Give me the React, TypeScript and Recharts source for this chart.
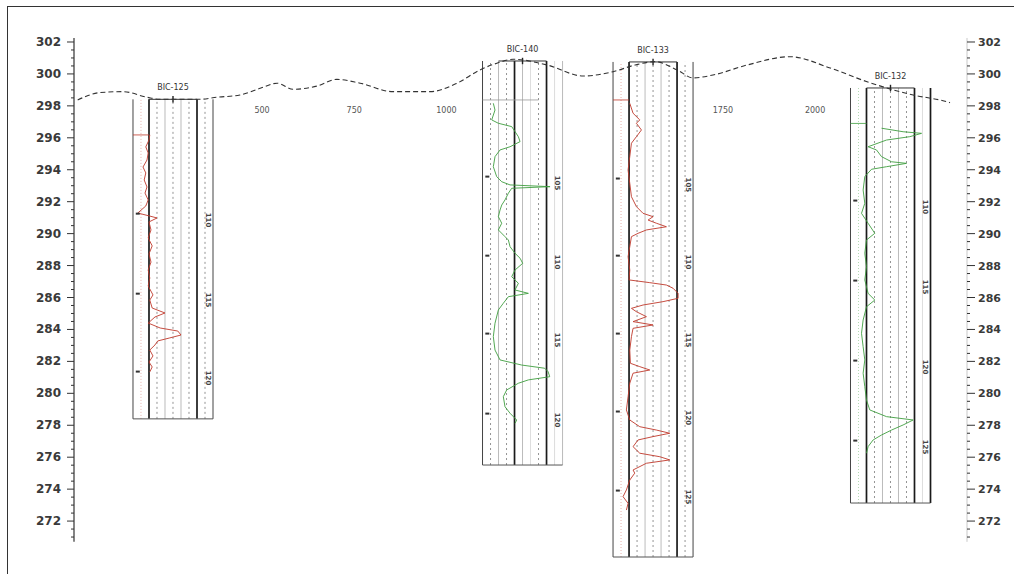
import {
  ComposedChart, Line, Scatter, XAxis, YAxis, ReferenceLine,
} from 'recharts'

// elevation axis (m)
const Y_LABELS = [302, 300, 298, 296, 294, 292, 290, 288, 286, 284, 282, 280, 278, 276, 274, 272]
const Y_TICKS = Array.from({ length: 63 }, (_, i) => 271 + i * 0.5)

// ground surface profile
const SURFACE_DIST = [0, 60, 123, 188, 223, 332, 378, 440, 495, 541, 584, 649, 703, 766, 855, 956, 1029, 1091, 1137, 1181, 1273, 1371, 1452, 1512, 1566, 1626, 1669, 1723, 1816, 1932, 2041, 2141, 2266, 2347, 2366]
const SURFACE_ELEV = [298.37, 298.83, 298.89, 298.54, 298.41, 298.41, 298.54, 298.68, 299.1, 299.42, 299.04, 299.24, 299.66, 299.42, 298.89, 298.89, 299.42, 300.25, 300.67, 300.92, 300.56, 299.87, 300.14, 300.56, 300.77, 300.25, 299.75, 299.93, 300.56, 301.08, 300.37, 299.51, 298.68, 298.32, 298.2]

// distance labels along the section
const DIST_TICKS = [500, 750, 1000, 1750, 2000]

// wells
const WELL_NAMES = ['BIC-125', 'BIC-140', 'BIC-133', 'BIC-132']
const WELL_DIST = [150, 1098, 1452, 2096]
const WELL_TOP = [298.41, 300.81, 300.75, 299.12]
const WELL_BASE = [278.4, 275.51, 269.75, 273.13]
const LOG_TOP = [296.18, 298.37, 298.37, 296.9]
const DEPTH_MARKS = [
  [290.85, 285.84, 280.96],
  [293.17, 288.22, 283.34, 278.33],
  [293.05, 288.22, 283.34, 278.46, 273.51],
  [291.67, 286.66, 281.65, 276.64],
]
const DEPTH_LABELS = [
  ['110', '115', '120'],
  ['105', '110', '115', '120'],
  ['105', '110', '115', '120', '125'],
  ['110', '115', '120', '125'],
]

// log curves: elevation, reading in track units (0-10)
const W1_ELEV = [296.18, 295.86, 295.43, 295.05, 294.61, 294.17, 293.8, 293.36, 292.92, 292.54, 292.11, 291.73, 291.29, 291.1, 290.98, 290.73, 290.23, 289.73, 289.23, 288.73, 288.22, 287.72, 287.22, 286.72, 286.16, 285.84, 285.34, 285.03, 284.78, 284.4, 284.09, 283.9, 283.65, 283.47, 283.28, 283.03, 282.71, 282.34, 281.96, 281.65, 281.34]
const W1_LOG = [2.1, 2.0, 1.6, 1.9, 1.75, 1.25, 1.6, 1.4, 1.75, 1.5, 1.9, 1.6, 0.6, 2.1, 3.0, 2.0, 2.25, 1.9, 2.4, 2.0, 2.25, 1.9, 2.1, 1.9, 2.5, 2.1, 2.4, 4.0, 2.75, 1.9, 3.4, 5.6, 6.0, 4.6, 3.1, 2.75, 2.1, 2.5, 2.0, 2.4, 2.1]

const W2_ELEV = [298.16, 297.74, 297.12, 296.91, 296.7, 296.07, 295.76, 295.44, 295.24, 294.82, 294.19, 293.57, 293.25, 293.05, 292.94, 292.84, 292.53, 292.11, 291.79, 291.48, 291.06, 290.65, 290.23, 289.81, 289.6, 289.18, 288.77, 288.46, 288.14, 287.72, 287.3, 286.89, 286.47, 286.26, 286.05, 285.64, 285.22, 284.39, 283.55, 282.71, 282.09, 281.77, 281.57, 281.36, 281.04, 280.84, 280.63, 280.21, 279.79, 279.16, 278.75, 278.33, 278.12]
const W2_LOG = [1.35, 1.56, 1.15, 1.98, 3.65, 4.48, 4.69, 3.44, 2.19, 1.56, 1.35, 1.77, 2.4, 3.44, 8.44, 3.65, 3.23, 2.81, 2.4, 2.19, 1.98, 2.4, 1.98, 2.81, 3.23, 3.44, 4.06, 4.69, 5.02, 4.06, 3.65, 4.48, 4.06, 5.73, 3.23, 2.6, 1.98, 1.56, 1.35, 1.56, 2.19, 4.9, 7.77, 8.19, 8.4, 5.73, 4.48, 3.02, 2.6, 2.81, 3.44, 4.27, 4.06]

const W3_ELEV = [298.16, 297.54, 297.12, 296.91, 296.49, 296.07, 295.66, 294.82, 293.98, 293.15, 292.31, 291.69, 291.27, 291.06, 290.85, 290.65, 290.43, 290.23, 290.02, 289.81, 289.18, 288.56, 287.72, 287.1, 286.93, 286.78, 286.58, 286.26, 285.95, 285.74, 285.53, 285.32, 285.11, 284.8, 284.49, 284.28, 284.07, 283.55, 282.71, 281.88, 281.67, 281.46, 281.26, 280.63, 279.79, 278.96, 278.33, 277.91, 277.7, 277.5, 277.29, 277.08, 276.66, 276.25, 276.03, 275.83, 275.62, 275.2, 275.0, 274.57, 273.95, 273.53, 273.11, 272.69]
const W3_LOG = [2.09, 2.5, 3.34, 2.92, 3.55, 2.92, 2.3, 2.09, 1.88, 2.09, 2.3, 2.92, 3.75, 5.0, 4.38, 5.42, 6.67, 4.17, 3.13, 2.3, 2.09, 1.88, 2.09, 2.0, 4.59, 6.67, 7.5, 8.13, 8.13, 6.25, 3.75, 2.3, 2.92, 4.17, 2.5, 5.0, 2.5, 2.3, 2.09, 2.17, 3.34, 4.59, 2.5, 2.09, 1.88, 1.67, 2.09, 3.34, 5.42, 7.09, 5.0, 3.13, 2.5, 3.34, 5.84, 7.09, 4.17, 2.5, 2.71, 2.09, 1.67, 1.25, 1.88, 1.67]

const W4_ELEV = [296.6, 296.38, 296.28, 296.07, 295.86, 295.44, 295.24, 294.82, 294.5, 294.4, 294.19, 294.03, 293.57, 292.73, 291.9, 291.27, 290.65, 290.02, 289.6, 288.77, 287.93, 287.1, 286.26, 285.84, 285.42, 284.59, 283.76, 282.92, 282.09, 281.26, 280.42, 279.58, 278.96, 278.54, 278.33, 278.02, 277.7, 277.39, 277.08, 276.66, 276.25]
const W4_LOG = [3.88, 6.58, 8.88, 7.41, 4.5, 2.2, 3.25, 3.88, 5.13, 7.0, 4.5, 2.63, 1.79, 1.58, 1.79, 1.38, 2.2, 3.04, 2.0, 1.79, 2.0, 1.79, 2.2, 3.04, 2.0, 1.58, 1.38, 1.58, 1.79, 1.58, 1.79, 2.0, 2.41, 4.5, 7.83, 6.58, 5.13, 3.88, 2.83, 2.2, 2.0]

const LOGS = [
  { elev: W1_ELEV, val: W1_LOG },
  { elev: W2_ELEV, val: W2_LOG },
  { elev: W3_ELEV, val: W3_LOG },
  { elev: W4_ELEV, val: W4_LOG },
]

const RED = '#c0392b'
const GREEN = '#3f9e3f'
const WELL_COLOURS = [RED, GREEN, RED, GREEN]

// track width in distance units per grid step
const STEP = 21.7

type Kind = 'outer' | 'thick' | 'thin' | 'dash' | 'dot' | 'faint'
const LAYOUT_A: [number, Kind][] = [[0, 'outer'], [1, 'dot'], [2, 'thick'], [3, 'dash'], [4, 'thin'], [5, 'dash'], [6, 'thin'], [7, 'dash'], [8, 'thick'], [9, 'dash'], [10, 'outer']]
const LAYOUT_B: [number, Kind][] = [[0, 'outer'], [1, 'dash'], [2, 'thin'], [3, 'dash'], [4, 'thick'], [5, 'thin'], [6, 'faint'], [7, 'dash'], [8, 'thick'], [9, 'faint'], [10, 'thin']]
const LAYOUT_C: [number, Kind][] = [[0, 'outer'], [1, 'dot'], [2, 'thick'], [3, 'dash'], [4, 'thin'], [5, 'dash'], [6, 'thin'], [7, 'dash'], [8, 'thick'], [9, 'faint'], [10, 'thick']]
const LAYOUTS = [LAYOUT_A, LAYOUT_B, LAYOUT_A, LAYOUT_C]

function lineStyle(kind: Kind, colour: string) {
  switch (kind) {
    case 'outer': return { stroke: '#444', strokeWidth: 1 }
    case 'thick': return { stroke: '#1a1a1a', strokeWidth: 1.7 }
    case 'thin': return { stroke: '#aaa', strokeWidth: 0.8 }
    case 'faint': return { stroke: '#d4d4d4', strokeWidth: 0.8 }
    case 'dash': return { stroke: '#777', strokeWidth: 0.8, strokeDasharray: '2 3' }
    default: return { stroke: colour, strokeOpacity: 0.5, strokeWidth: 0.8, strokeDasharray: '1 2' }
  }
}

function LeftTick(props: any) {
  const { x, y, payload } = props
  const major = Y_LABELS.includes(payload.value)
  return (
    <g>
      <line x1={x - (major ? 7 : 3)} x2={x} y1={y} y2={y} stroke="#333" strokeWidth={1} />
      {major && (
        <text x={x - 13} y={y} dy={4} textAnchor="end" fontSize={12} fontWeight="bold"
          fontFamily="DejaVu Sans, sans-serif" fill="#3a3a3a">{payload.value}</text>
      )}
    </g>
  )
}

function RightTick(props: any) {
  const { x, y, payload } = props
  const major = Y_LABELS.includes(payload.value)
  return (
    <g>
      <line x1={x} x2={x + (major ? 8 : 3)} y1={y} y2={y} stroke="#333" strokeWidth={1} />
      {major && (
        <text x={x + 11} y={y} dy={4} textAnchor="start" fontSize={11} fontWeight="bold"
          fontFamily="DejaVu Sans, sans-serif" fill="#3a3a3a">{payload.value}</text>
      )}
    </g>
  )
}

const surfaceData = SURFACE_DIST.map((d, i) => ({ x: d, y: SURFACE_ELEV[i] }))
const distLabelData = DIST_TICKS.map(d => ({ x: d, y: 297.75, label: String(d) }))
const nameData = WELL_NAMES.map((n, i) => ({ x: WELL_DIST[i] + 5 * STEP, y: WELL_TOP[i], label: n }))
const depthData = DEPTH_MARKS.flatMap((marks, w) =>
  marks.map((e, j) => ({ x: WELL_DIST[w] + 9.4 * STEP, y: e, label: DEPTH_LABELS[w][j] })))
const markData = DEPTH_MARKS.flatMap((marks, w) =>
  marks.map(e => ({ x: WELL_DIST[w] + 0.6 * STEP, y: e + 0.4 })))

export default function App() {
  return (
    <div style={{ position: 'absolute', left: 0, top: 0, width: 1014, height: 574, background: '#fff' }}>
      <div style={{
        position: 'absolute', left: 7, top: 6, width: 1007, height: 568,
        borderLeft: '1px solid #333', borderTop: '1px solid #333',
      }} />
      <div style={{ position: 'absolute', left: 0, top: 0 }}>
        <ComposedChart width={1014} height={574} margin={{ top: 34, right: 12, bottom: 13, left: 14 }}>
          <XAxis type="number" dataKey="x" domain={[-10, 2412]} allowDataOverflow hide />
          <YAxis yAxisId="l" type="number" domain={[269.5, 302.5]} allowDataOverflow ticks={Y_TICKS}
            interval={0} width={60} tickSize={0} tickMargin={0} axisLine={false} tickLine={false}
            tick={(p: any) => <LeftTick {...p} />} />
          <YAxis yAxisId="r" orientation="right" type="number" domain={[269.5, 302.5]} allowDataOverflow
            ticks={Y_TICKS} interval={0} width={35} tickSize={0} tickMargin={0} axisLine={false}
            tickLine={false} tick={(p: any) => <RightTick {...p} />} />

          <ReferenceLine yAxisId="l" ifOverflow="visible" stroke="#333" strokeWidth={1.2}
            segment={[{ x: -10, y: 270.7 }, { x: -10, y: 302.25 }]} />
          <ReferenceLine yAxisId="l" ifOverflow="visible" stroke="#bbb" strokeWidth={0.8}
            segment={[{ x: 2412, y: 270.7 }, { x: 2412, y: 302.25 }]} />

          {WELL_NAMES.map((_, w) => LAYOUTS[w].map(([s, kind]) => (
            <ReferenceLine key={`t${w}-${s}`} yAxisId="l" ifOverflow="visible"
              {...lineStyle(kind, WELL_COLOURS[w])}
              segment={[{ x: WELL_DIST[w] + s * STEP, y: WELL_BASE[w] }, { x: WELL_DIST[w] + s * STEP, y: WELL_TOP[w] }]} />
          )))}
          {WELL_NAMES.map((_, w) => (
            <ReferenceLine key={`b${w}`} yAxisId="l" ifOverflow="visible" stroke="#555" strokeWidth={1}
              segment={[{ x: WELL_DIST[w], y: WELL_BASE[w] }, { x: WELL_DIST[w] + 10 * STEP, y: WELL_BASE[w] }]} />
          ))}
          {WELL_NAMES.map((_, w) => (
            <ReferenceLine key={`h${w}`} yAxisId="l" ifOverflow="visible" stroke="#333" strokeWidth={1}
              segment={[{ x: WELL_DIST[w] + 2 * STEP, y: WELL_TOP[w] }, { x: WELL_DIST[w] + 8 * STEP, y: WELL_TOP[w] }]} />
          ))}
          {WELL_NAMES.map((_, w) => (
            <ReferenceLine key={`m${w}`} yAxisId="l" ifOverflow="visible" stroke="#222" strokeWidth={1.4}
              segment={[{ x: WELL_DIST[w] + 5 * STEP, y: WELL_TOP[w] - 0.2 }, { x: WELL_DIST[w] + 5 * STEP, y: WELL_TOP[w] + 0.2 }]} />
          ))}
          {WELL_NAMES.map((_, w) => (
            <ReferenceLine key={`lt${w}`} yAxisId="l" ifOverflow="visible" stroke={w === 1 ? '#999' : WELL_COLOURS[w]}
              strokeWidth={0.8}
              segment={[{ x: WELL_DIST[w], y: LOG_TOP[w] }, { x: WELL_DIST[w] + (w === 1 ? 7 : 2) * STEP, y: LOG_TOP[w] }]} />
          ))}

          {LOGS.map((lg, w) => (
            <Line key={`log${w}`} yAxisId="l" type="linear" dataKey="y" dot={false} activeDot={false}
              isAnimationActive={false} stroke={WELL_COLOURS[w]} strokeWidth={0.9}
              data={lg.elev.map((e, i) => ({ x: WELL_DIST[w] + lg.val[i] * STEP, y: e }))} />
          ))}

          <Line yAxisId="l" data={surfaceData} type="monotone" dataKey="y" dot={false} activeDot={false}
            isAnimationActive={false} stroke="#333" strokeWidth={1.1} strokeDasharray="5 3" />

          <Scatter yAxisId="l" data={distLabelData} dataKey="y" isAnimationActive={false}
            shape={(p: any) => (
              <text x={p.cx} y={p.cy} dy={3} textAnchor="middle" fontSize={8}
                fontFamily="DejaVu Sans, sans-serif" fill="#555">{p.payload.label}</text>
            )} />
          <Scatter yAxisId="l" data={nameData} dataKey="y" isAnimationActive={false}
            shape={(p: any) => (
              <text x={p.cx} y={p.cy - 9} textAnchor="middle" fontSize={8}
                fontFamily="DejaVu Sans, sans-serif" fill="#333">{p.payload.label}</text>
            )} />
          <Scatter yAxisId="l" data={depthData} dataKey="y" isAnimationActive={false}
            shape={(p: any) => (
              <text x={p.cx} y={p.cy} textAnchor="middle" dy={2.5} fontSize={7} fontWeight="bold"
                fontFamily="DejaVu Sans, sans-serif" fill="#444"
                transform={`rotate(90 ${p.cx} ${p.cy})`}>{p.payload.label}</text>
            )} />
          <Scatter yAxisId="l" data={markData} dataKey="y" isAnimationActive={false}
            shape={(p: any) => <rect x={p.cx - 2} y={p.cy - 1} width={4} height={2} fill="#333" />} />
        </ComposedChart>
      </div>
    </div>
  )
}
